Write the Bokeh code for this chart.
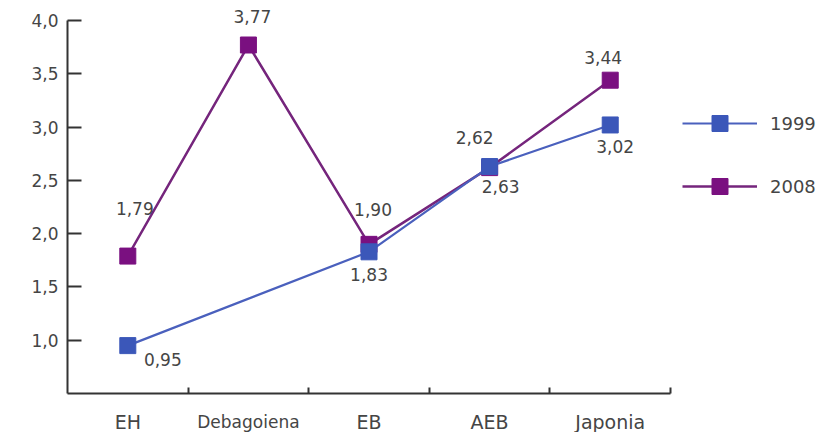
from bokeh.plotting import figure
from bokeh.models import (ColumnDataSource, Range1d, FixedTicker, CustomJSTickFormatter,
                          LabelSet, Label, Legend, LegendItem)
from bokeh.core.properties import value, field
from bokeh.embed import file_html
from bokeh.resources import INLINE

# ---- data ----
categories = ["EH", "Debagoiena", "EB", "AEB", "Japonia"]
values_1999 = [0.95, None, 1.83, 2.63, 3.02]
values_2008 = [1.79, 3.77, 1.90, 2.62, 3.44]
y_ticks = [1.0, 1.5, 2.0, 2.5, 3.0, 3.5, 4.0]

# ---- styling: label offsets in px (dx, dy; dy positive = up) ----
off_1999 = [(35, -14), (0, 0), (0, -23), (11, -20), (5, -22)]
off_2008 = [(7, 48), (4, 29), (4, 35), (-15, 30), (-7, 23)]
cat_font = ["19px", "17px", "19px", "19px", "19px"]

FONT = "DejaVu Sans"
TXT = "#454545"
BLUE_M, BLUE_L = "#3b57b9", "#4a60bd"
PURP_M, PURP_L = "#7a1080", "#75257c"


def series_src(vals, offs):
    idx = [i for i, v in enumerate(vals) if v is not None]
    return ColumnDataSource(dict(
        x=idx,
        y=[vals[i] for i in idx],
        lab=[f"{vals[i]:.2f}".replace(".", ",") for i in idx],
        dx=[offs[i][0] for i in idx],
        dy=[offs[i][1] for i in idx],
    ))


s99 = series_src(values_1999, off_1999)
s08 = series_src(values_2008, off_2008)

n = len(categories)
x_lo, y_lo, y_hi = -0.5, 0.5, 4.0
p = figure(width=822, height=432,
           x_range=Range1d(-1.0556, 5.760), y_range=Range1d(0.135, 4.1876),
           output_backend="svg", toolbar_location=None,
           min_border_left=0, min_border_right=0,
           min_border_top=0, min_border_bottom=0)
p.grid.visible = False
p.outline_line_color = None

# y axis
ya = p.yaxis[0]
ya.fixed_location = x_lo
ya.ticker = FixedTicker(ticks=y_ticks)
ya.formatter = CustomJSTickFormatter(code="return tick.toFixed(1).replace('.', ',');")
ya.bounds = (y_lo, y_hi)
ya.major_tick_in = 14
ya.major_tick_out = 0
ya.minor_tick_line_color = None
ya.axis_line_width = 2
ya.axis_line_color = "#333333"
ya.major_tick_line_width = 2
ya.major_tick_line_color = "#333333"
ya.major_label_standoff = 9
ya.major_label_text_font = FONT
ya.major_label_text_font_size = "17px"
ya.major_label_text_color = TXT

# x axis: ticks at category boundaries, labels drawn separately
xa = p.xaxis[0]
xa.fixed_location = y_lo
xa.bounds = (x_lo, n - 0.5)
xa.ticker = FixedTicker(ticks=[i + 0.5 for i in range(n)])
xa.formatter = CustomJSTickFormatter(code="return '';")
xa.major_tick_in = 6
xa.major_tick_out = 0
xa.minor_tick_line_color = None
xa.axis_line_width = 2
xa.axis_line_color = "#333333"
xa.major_tick_line_width = 2
xa.major_tick_line_color = "#333333"

for i, (cat, fs) in enumerate(zip(categories, cat_font)):
    p.add_layout(Label(x=i, y=y_lo, text=cat, y_offset=-28,
                       text_align="center", text_baseline="middle",
                       text_font=FONT, text_font_size=fs, text_color=TXT))

# series
l08 = p.line("x", "y", source=s08, line_color=PURP_L, line_width=2.5)
m08 = p.scatter("x", "y", source=s08, marker="square", size=16,
                fill_color=PURP_M, line_color=PURP_M)
l99 = p.line("x", "y", source=s99, line_color=BLUE_L, line_width=2.2)
m99 = p.scatter("x", "y", source=s99, marker="square", size=16,
                fill_color=BLUE_M, line_color=BLUE_M)

for src in (s99, s08):
    p.add_layout(LabelSet(x="x", y="y", text="lab", source=src,
                          x_offset=field("dx"), y_offset=field("dy"),
                          text_align="center", text_baseline="middle",
                          text_font=value(FONT), text_font_size="17px",
                          text_color=TXT))

legend = Legend(items=[LegendItem(label="1999", renderers=[l99, m99]),
                       LegendItem(label="2008", renderers=[l08, m08])],
                location=(682, 226), orientation="vertical",
                glyph_width=75, glyph_height=40, label_height=20,
                spacing=23, label_standoff=13, padding=0, margin=0,
                border_line_color=None, background_fill_alpha=0,
                label_text_font=FONT, label_text_font_size="18px",
                label_text_color=TXT)
p.add_layout(legend)

open("out.html", "w").write(file_html(p, INLINE))
